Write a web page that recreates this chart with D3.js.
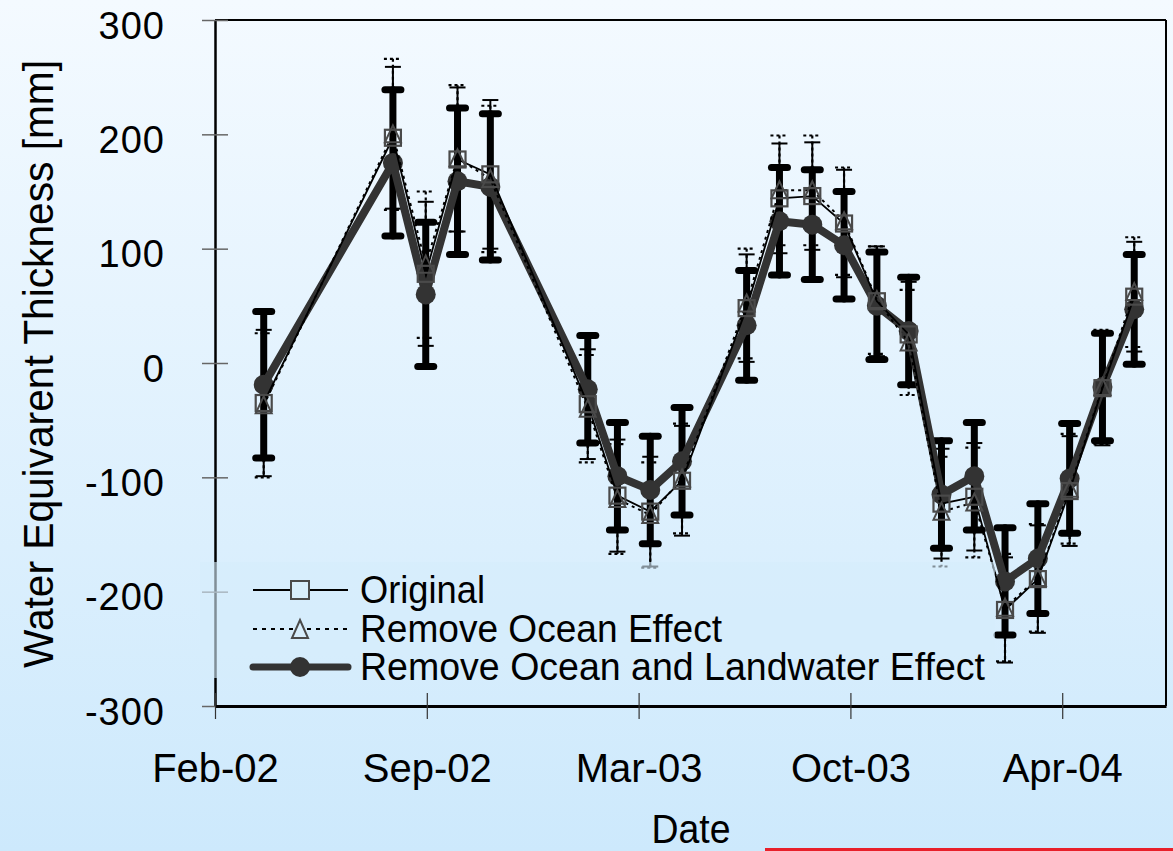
<!DOCTYPE html>
<html><head><meta charset="utf-8">
<script src="https://cdn.jsdelivr.net/npm/d3@7"></script>
<style>html,body{margin:0;padding:0;overflow:hidden;background:#fff}svg{display:block}</style>
</head><body>
<svg id="c" width="1173" height="851"></svg>
<script>
// ---- data ----
const dates = ["2002-04-01","2002-08-01","2002-09-01","2002-10-01","2002-11-01",
  "2003-02-01","2003-03-01","2003-04-01","2003-05-01","2003-07-01","2003-08-01",
  "2003-09-01","2003-10-01","2003-11-01","2003-12-01","2004-01-01","2004-02-01",
  "2004-03-01","2004-04-01","2004-05-01","2004-06-01","2004-07-01"];
const original    = [-35, 197, 78, 178, 165, -36, -116, -130, -103, 48, 144, 146, 122, 54, 25, -123, -117, -216, -189, -112, -22, 58];
const originalErr = [64, 62, 63, 63, 65, 48, 49, 48, 48, 47, 48, 47, 47, 48, 46, 48, 47, 46, 47, 48, 50, 48];
const ocean       = [-37, 200, 86, 179, 161, -40, -119, -133, -101, 52, 151, 151, 124, 55, 18, -130, -122, -214, -188, -110, -21, 62];
const oceanErr    = [63, 66, 64, 64, 64, 47, 48, 46, 48, 48, 48, 48, 47, 47, 46, 48, 48, 47, 47, 48, 50, 48];
const landwater   = [-19, 175, 60, 159, 154, -23, -99, -111, -86, 33, 124, 121, 103, 50, 28, -115, -99, -191, -171, -101, -21, 47];
const landwaterErr= [64, 64, 63, 64, 64, 47, 47, 47, 47, 48, 47, 48, 47, 47, 47, 47, 47, 47, 48, 48, 47, 48];
const xDomain = ["2002-02-14","2004-07-31"];
const tickDates  = ["2002-02-14","2002-09-02","2003-03-21","2003-10-07","2004-04-24"];
const tickLabels = ["Feb-02","Sep-02","Mar-03","Oct-03","Apr-04"];
const yTicks = [300,200,100,0,-100,-200,-300];
const legendNames = ["Original","Remove Ocean Effect","Remove Ocean and Landwater Effect"];

// ---- setup ----
const svg = d3.select("#c");
const W = 1173, H = 851;
const L = 215, R = 1166, T = 20, B = 706;
const parse = d3.utcParse("%Y-%m-%d");
const x = d3.scaleUtc().domain(xDomain.map(parse)).range([L, R]);
const y = d3.scaleLinear().domain([-300, 300]).range([B, T]);
const FONT = "'Liberation Sans', Arial, sans-serif";

const defs = svg.append("defs");
const g = defs.append("linearGradient").attr("id","bg").attr("x1",0).attr("y1",0).attr("x2",0).attr("y2",1);
g.append("stop").attr("offset","0%").attr("stop-color","#f4faff");
g.append("stop").attr("offset","100%").attr("stop-color","#cde9fc");
svg.append("rect").attr("width",W).attr("height",H).attr("fill","url(#bg)");

// ---- frame ----
svg.append("line").attr("x1",L).attr("x2",R).attr("y1",T).attr("y2",T).attr("stroke","#000").attr("stroke-width",2);
svg.append("line").attr("x1",R).attr("x2",R).attr("y1",T).attr("y2",B).attr("stroke","#000").attr("stroke-width",2);

// ---- axes ----
const yAxis = svg.append("g").attr("transform",`translate(${L},0)`)
  .call(d3.axisLeft(y).tickValues(yTicks).tickSize(13).tickSizeOuter(0).tickPadding(0)
        .tickFormat(d => d < 0 ? "-" + Math.abs(d) : String(d)));
yAxis.select(".domain").attr("stroke","#000").attr("stroke-width",2.5);
yAxis.selectAll(".tick line").attr("x1",-13).attr("x2",13).attr("stroke","#666").attr("stroke-width",1.5);
yAxis.selectAll(".tick text").attr("x",-50).attr("dy",18).attr("text-anchor","end")
  .attr("font-family",FONT).attr("font-size",38).attr("fill","#000").attr("letter-spacing",1);

const xAxis = svg.append("g").attr("transform",`translate(0,${B})`)
  .call(d3.axisBottom(x).tickValues(tickDates.map(parse)).tickSize(13).tickSizeOuter(0).tickPadding(0)
        .tickFormat((d,i) => tickLabels[i]));
xAxis.select(".domain").attr("stroke","#000").attr("stroke-width",3);
xAxis.selectAll(".tick line").attr("y1",-13).attr("y2",13).attr("stroke","#333").attr("stroke-width",1.2);
xAxis.selectAll(".tick text").attr("y",76).attr("dy",0)
  .attr("font-family",FONT).attr("font-size",40).attr("fill","#000");

// titles
svg.append("text").attr("transform","translate(53,364) rotate(-90)").attr("text-anchor","middle")
  .attr("font-family",FONT).attr("font-size",42).attr("textLength",608).attr("lengthAdjust","spacingAndGlyphs")
  .text("Water Equivarent Thickness [mm]");
svg.append("text").attr("x",691).attr("y",843).attr("text-anchor","middle")
  .attr("font-family",FONT).attr("font-size",41).attr("textLength",79).attr("lengthAdjust","spacingAndGlyphs")
  .text("Date");

// ---- data marks ----
const pts = (vals, errs) => dates.map((d,i) => ({x: x(parse(d)), v: vals[i], e: errs[i]}));
const pOrig = pts(original, originalErr), pOcean = pts(ocean, oceanErr), pLand = pts(landwater, landwaterErr);

function errBars(data, cls, width, capHalf, dash, linecap){
  const gg = svg.append("g").attr("class",cls).attr("stroke","#000").attr("stroke-width",width)
    .attr("stroke-linecap",linecap).attr("stroke-dasharray",dash);
  gg.selectAll(".v").data(data).join("line").attr("x1",d=>d.x).attr("x2",d=>d.x)
    .attr("y1",d=>y(d.v+d.e)).attr("y2",d=>y(d.v-d.e));
  gg.selectAll(".t").data(data).join("line").attr("x1",d=>d.x-capHalf).attr("x2",d=>d.x+capHalf)
    .attr("y1",d=>y(d.v+d.e)).attr("y2",d=>y(d.v+d.e));
  gg.selectAll(".b").data(data).join("line").attr("x1",d=>d.x-capHalf).attr("x2",d=>d.x+capHalf)
    .attr("y1",d=>y(d.v-d.e)).attr("y2",d=>y(d.v-d.e));
}
errBars(pOrig, "eb-orig", 2, 8, null, "butt");
errBars(pOcean, "eb-ocean", 2.2, 9, "3,3", "butt");
errBars(pLand, "eb-land", 7, 8, null, "round");

const line = d3.line().x(d=>d.x).y(d=>y(d.v));
svg.append("path").datum(pLand).attr("d",line).attr("fill","none").attr("stroke","#333").attr("stroke-width",8).attr("stroke-linejoin","round");
svg.append("g").selectAll("circle").data(pLand).join("circle").attr("cx",d=>d.x).attr("cy",d=>y(d.v)).attr("r",10).attr("fill","#333");
svg.append("path").datum(pOrig).attr("d",line).attr("fill","none").attr("stroke","#000").attr("stroke-width",1.8);
svg.append("path").datum(pOcean).attr("d",line).attr("fill","none").attr("stroke","#000").attr("stroke-width",2).attr("stroke-dasharray","3,4");

const sq = 16;
svg.append("g").selectAll("rect").data(pOrig).join("rect")
  .attr("x",d=>d.x-sq/2).attr("y",d=>y(d.v)-sq/2).attr("width",sq).attr("height",sq)
  .attr("fill","none").attr("stroke","#4a4a4a").attr("stroke-width",2.2);
const tri = (cx,cy) => `M${cx},${cy-9}L${cx+8},${cy+8}L${cx-8},${cy+8}Z`;
svg.append("g").selectAll("path").data(pOcean).join("path")
  .attr("d",d=>tri(d.x, y(d.v))).attr("fill","none").attr("stroke","#4a4a4a").attr("stroke-width",2);

// ---- legend ----
svg.append("rect").attr("x",200).attr("y",562).attr("width",795).attr("height",116)
  .attr("fill","#d6ecfc").attr("fill-opacity",0.6);
const lg = svg.append("g");
const ly = [590, 629, 667];
lg.append("line").attr("x1",253).attr("x2",348).attr("y1",ly[0]).attr("y2",ly[0]).attr("stroke","#000").attr("stroke-width",2);
lg.append("rect").attr("x",300-9).attr("y",ly[0]-9).attr("width",18).attr("height",18).attr("fill","#d8eefc").attr("stroke","#4a4a4a").attr("stroke-width",2);
lg.append("line").attr("x1",253).attr("x2",348).attr("y1",ly[1]).attr("y2",ly[1]).attr("stroke","#000").attr("stroke-width",2).attr("stroke-dasharray","4,5");
lg.append("path").attr("d",`M300,${ly[1]-9}L308,${ly[1]+9}L292,${ly[1]+9}Z`).attr("fill","#d8eefc").attr("stroke","#4a4a4a").attr("stroke-width",2);
lg.append("line").attr("x1",253).attr("x2",348).attr("y1",ly[2]).attr("y2",ly[2]).attr("stroke","#333").attr("stroke-width",7).attr("stroke-linecap","round");
lg.append("circle").attr("cx",300).attr("cy",ly[2]).attr("r",10).attr("fill","#333");
const lens = [125, 362, 625];
legendNames.forEach((n,i) => {
  lg.append("text").attr("x",360).attr("y",ly[i]+13).attr("font-family",FONT).attr("font-size",38)
    .attr("textLength",lens[i]).attr("lengthAdjust","spacingAndGlyphs").text(n);
});

// red line decoration
svg.append("line").attr("x1",765).attr("x2",W).attr("y1",849.5).attr("y2",849.5).attr("stroke","#e8202a").attr("stroke-width",3);
</script>
</body></html>
